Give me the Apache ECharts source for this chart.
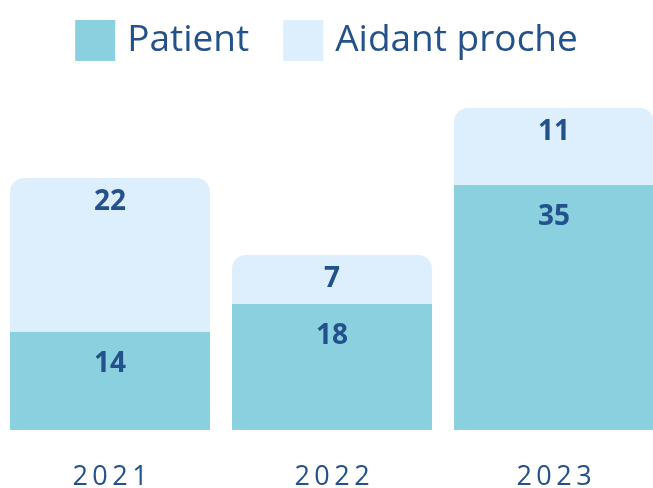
<!DOCTYPE html>
<html>
<head>
<meta charset="utf-8">
<script src="https://cdn.jsdelivr.net/npm/echarts@6/dist/echarts.min.js"></script>
<style>
  html, body { margin: 0; padding: 0; background: #fff; }
  #chart { width: 653px; height: 488px; }
</style>
</head>
<body>
<div id="chart"></div>
<script>
// données
const years = ['2021', '2022', '2023']
const patient = [14, 18, 35]
const aidant = [22, 7, 11]

const textColor = '#23518b'
const fontFamily = '"Open Sans", Lato, sans-serif'

// espacement des chiffres de l'année
function spaced(s) {
  return s.split('').join('\u2009')
}

const chart = echarts.init(document.getElementById('chart'), null, { renderer: 'canvas' })

chart.setOption({
  animation: false,
  legend: {
    top: 15,
    left: 'center',
    itemWidth: 40,
    itemHeight: 41,
    itemGap: 34,
    icon: 'rect',
    textStyle: {
      color: textColor,
      fontSize: 37,
      fontFamily: fontFamily,
      padding: [0, 0, 0, 7]
    }
  },
  grid: {
    left: -1,
    width: 666,
    top: 80,
    bottom: 58,
    outerBoundsMode: 'none',
    containLabel: false
  },
  xAxis: {
    type: 'category',
    data: years,
    axisLine: { show: false },
    axisTick: { show: false },
    axisLabel: {
      margin: 34,
      color: textColor,
      fontSize: 27,
      fontFamily: fontFamily,
      formatter: spaced
    }
  },
  yAxis: {
    type: 'value',
    min: 0,
    max: 50,
    show: false,
    splitLine: { show: false }
  },
  series: [
    {
      name: 'Patient',
      type: 'bar',
      stack: 'total',
      data: patient,
      barWidth: 200,
      itemStyle: { color: '#8bd0de' },
      label: {
        show: true,
        position: 'insideTop',
        distance: 18,
        color: textColor,
        fontSize: 28,
        fontWeight: 'bold',
        fontFamily: fontFamily
      }
    },
    {
      name: 'Aidant proche',
      type: 'bar',
      stack: 'total',
      data: aidant,
      barWidth: 200,
      itemStyle: { color: '#ddeffd', borderRadius: [14, 14, 0, 0] },
      label: {
        show: true,
        position: 'insideTop',
        distance: 10,
        color: textColor,
        fontSize: 28,
        fontWeight: 'bold',
        fontFamily: fontFamily
      }
    }
  ]
})
</script>
</body>
</html>
